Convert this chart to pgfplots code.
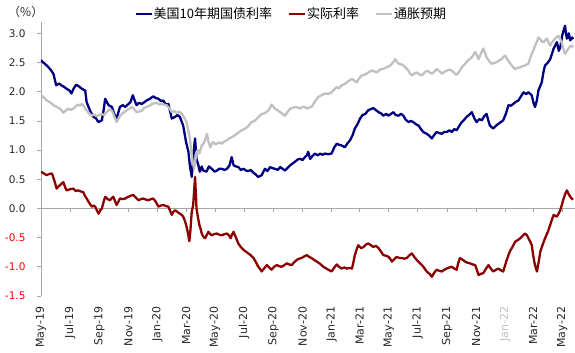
\documentclass[border=0pt]{standalone}
\usepackage{fontspec}
\setmainfont{DejaVu Sans}
\newfontfamily\cjk{Noto Sans CJK SC}
\usepackage{pgfplots}
\pgfplotsset{compat=1.18}
\definecolor{navyc}{HTML}{000080}
\definecolor{redc}{HTML}{8B0000}
\definecolor{grayc}{HTML}{C0C0C0}
\definecolor{axisc}{HTML}{A6A6A6}
\definecolor{lblc}{HTML}{262626}
\begin{document}
\begin{tikzpicture}
\useasboundingbox (0,0) rectangle (575bp,353bp);
\begin{axis}[
  at={(41bp,57bp)}, anchor=south west,
  scale only axis, width=534bp, height=274.3bp,
  xmin=0, xmax=1123, ymin=-1.5, ymax=3.2,
  axis x line*=middle, axis y line*=left,
  axis line style={draw=axisc, line width=0.8bp, -},
  hide obscured x ticks=false,
  xtick={0,61,123,184,245,305,366,427,489,550,611,670,731,792,854,915,976,1035,1096},
  xticklabels={May-19,Jul-19,Sep-19,Nov-19,Jan-20,Mar-20,May-20,Jul-20,Sep-20,Nov-20,Jan-21,Mar-21,May-21,Jul-21,Sep-21,Nov-21,\textcolor{grayc}{Jan-22},Mar-22,May-22},
  ytick={-1.5,-1.0,-0.5,0,0.5,1.0,1.5,2.0,2.5,3.0},
  yticklabels={\textcolor{red}{-1.5},\textcolor{red}{-1.0},\textcolor{red}{-0.5},0.0,0.5,1.0,1.5,2.0,2.5,3.0},
  tick align=outside, major tick length=4bp,
  tick style={draw=axisc, line width=0.8bp},
  xticklabel style={rotate=90, anchor=east, font=\fontsize{11bp}{12bp}\selectfont, text=lblc},
  xticklabel shift=91bp,
  yticklabel style={font=\fontsize{10.5bp}{12bp}\selectfont, text=lblc},
  yticklabel shift=8bp,
  legend style={at={(0.4680,1.028)}, anchor=center, draw=none, fill=none,
    font=\cjk\fontsize{13bp}{15bp}\selectfont,
    /tikz/every even column/.append style={column sep=15bp},
    inner sep=0pt, nodes={inner xsep=1bp, inner ysep=0pt}},
  legend columns=3,
  legend image code/.code={\draw[#1, line width=2bp] (0bp,0bp) -- (16bp,0bp);},
  every axis plot/.append style={line width=2.3bp, line join=round},
]
\addplot[navyc] coordinates {(0,2.54)(5,2.50)(12,2.45)(19,2.39)(26,2.31)(32,2.11)(38,2.14)(43,2.11)(49,2.08)(54,2.05)(60,2.02)(64,1.97)(69,2.06)(74,2.12)(80,2.09)(86,2.05)(93,2.02)(96,1.82)(103,1.68)(110,1.57)(115,1.55)(121,1.48)(128,1.51)(132,1.70)(135,1.88)(142,1.77)(149,1.74)(154,1.62)(159,1.54)(166,1.74)(172,1.77)(177,1.74)(184,1.79)(188,1.82)(193,1.94)(197,1.85)(201,1.77)(206,1.81)(212,1.79)(217,1.82)(222,1.85)(229,1.88)(236,1.92)(242,1.89)(247,1.88)(252,1.84)(257,1.85)(263,1.78)(268,1.79)(275,1.54)(282,1.57)(287,1.60)(292,1.57)(299,1.42)(305,1.14)(310,0.97)(313,0.74)(317,0.54)(320,0.85)(322,1.05)(324,1.20)(327,0.85)(331,0.74)(334,0.63)(338,0.72)(341,0.65)(348,0.63)(353,0.72)(359,0.68)(365,0.63)(370,0.65)(375,0.68)(380,0.68)(386,0.66)(391,0.68)(396,0.73)(401,0.88)(405,0.74)(410,0.72)(415,0.71)(420,0.66)(426,0.68)(431,0.65)(436,0.64)(441,0.66)(447,0.61)(452,0.58)(457,0.54)(464,0.57)(471,0.68)(476,0.64)(482,0.71)(487,0.69)(492,0.68)(498,0.66)(503,0.71)(508,0.68)(513,0.65)(519,0.70)(524,0.74)(529,0.77)(534,0.80)(540,0.84)(545,0.85)(550,0.83)(555,0.88)(559,0.91)(562,0.97)(566,0.85)(571,0.90)(576,0.94)(582,0.91)(587,0.94)(592,0.92)(597,0.94)(604,0.93)(611,0.94)(617,1.05)(622,1.11)(627,1.09)(632,1.08)(639,1.05)(645,1.12)(650,1.17)(655,1.25)(660,1.37)(666,1.45)(671,1.54)(676,1.60)(682,1.62)(688,1.68)(693,1.70)(699,1.72)(705,1.68)(710,1.65)(715,1.63)(720,1.59)(726,1.62)(731,1.59)(736,1.62)(741,1.65)(746,1.60)(752,1.59)(757,1.62)(762,1.59)(767,1.52)(773,1.48)(778,1.50)(783,1.48)(789,1.44)(794,1.42)(799,1.36)(804,1.31)(811,1.28)(816,1.25)(822,1.20)(827,1.26)(832,1.31)(838,1.29)(843,1.28)(848,1.31)(853,1.31)(859,1.34)(864,1.31)(869,1.36)(874,1.34)(880,1.42)(885,1.48)(890,1.52)(895,1.57)(900,1.60)(906,1.65)(911,1.55)(916,1.48)(922,1.53)(927,1.51)(932,1.58)(937,1.62)(941,1.50)(944,1.42)(951,1.37)(957,1.42)(962,1.45)(967,1.48)(972,1.51)(978,1.63)(983,1.77)(988,1.76)(993,1.79)(999,1.83)(1004,1.85)(1010,1.93)(1015,1.99)(1020,1.96)(1025,1.99)(1032,1.94)(1036,1.80)(1039,1.74)(1043,1.86)(1046,2.02)(1050,2.10)(1053,2.16)(1057,2.35)(1060,2.45)(1066,2.50)(1071,2.56)(1075,2.66)(1078,2.74)(1082,2.80)(1085,2.85)(1089,2.70)(1092,2.76)(1096,2.96)(1099,3.05)(1102,3.13)(1104,3.00)(1106,2.91)(1110,3.00)(1113,2.88)(1117,2.93)(1119,2.90)};
\addlegendentry{美国10年期国债利率}
\addplot[redc] coordinates {(0,0.63)(6,0.60)(12,0.57)(17,0.59)(23,0.60)(28,0.48)(33,0.34)(37,0.38)(40,0.40)(44,0.43)(47,0.45)(51,0.36)(54,0.31)(61,0.33)(68,0.34)(73,0.30)(78,0.31)(84,0.29)(89,0.28)(92,0.22)(96,0.17)(101,0.10)(107,0.03)(111,0.05)(114,0.03)(118,-0.04)(121,-0.09)(125,-0.03)(128,0.00)(132,0.12)(135,0.20)(140,0.16)(145,0.14)(149,0.18)(152,0.20)(156,0.12)(159,0.06)(163,0.12)(166,0.17)(172,0.16)(177,0.17)(181,0.19)(184,0.20)(189,0.22)(194,0.23)(200,0.18)(205,0.14)(210,0.16)(215,0.17)(221,0.15)(226,0.14)(231,0.16)(236,0.17)(241,0.12)(247,0.03)(252,0.05)(257,0.06)(263,0.04)(268,0.03)(272,-0.05)(275,-0.11)(278,-0.06)(282,-0.03)(287,-0.06)(292,-0.09)(296,-0.11)(299,-0.14)(303,-0.22)(306,-0.31)(309,-0.42)(312,-0.56)(314,-0.40)(317,-0.06)(320,0.06)(322,0.30)(324,0.54)(326,0.20)(327,0.00)(330,-0.15)(333,-0.28)(336,-0.36)(338,-0.43)(341,-0.48)(345,-0.51)(349,-0.45)(352,-0.40)(356,-0.44)(359,-0.46)(364,-0.44)(370,-0.43)(375,-0.45)(380,-0.46)(386,-0.44)(391,-0.43)(396,-0.47)(399,-0.51)(401,-0.46)(405,-0.40)(410,-0.50)(415,-0.60)(420,-0.66)(426,-0.71)(431,-0.74)(436,-0.77)(441,-0.80)(447,-0.85)(452,-0.92)(457,-1.00)(461,-1.04)(464,-1.08)(470,-1.02)(475,-0.97)(480,-1.01)(485,-1.05)(490,-1.00)(496,-0.97)(501,-0.99)(506,-1.00)(512,-0.97)(517,-0.94)(522,-0.96)(527,-0.97)(533,-0.92)(538,-0.88)(543,-0.86)(548,-0.85)(554,-0.82)(559,-0.80)(564,-0.83)(569,-0.85)(574,-0.88)(580,-0.91)(587,-0.95)(594,-1.00)(602,-1.04)(611,-1.08)(617,-1.01)(622,-0.96)(627,-1.00)(632,-1.03)(638,-1.01)(643,-1.03)(649,-1.02)(654,-1.03)(657,-0.92)(660,-0.80)(664,-0.70)(667,-0.63)(673,-0.68)(678,-0.66)(683,-0.62)(688,-0.60)(694,-0.63)(699,-0.66)(704,-0.64)(710,-0.68)(715,-0.74)(720,-0.80)(726,-0.81)(731,-0.83)(735,-0.87)(738,-0.91)(743,-0.87)(748,-0.83)(754,-0.85)(759,-0.85)(764,-0.86)(769,-0.85)(775,-0.80)(780,-0.77)(785,-0.83)(790,-0.88)(796,-0.93)(801,-0.97)(806,-1.02)(811,-1.08)(817,-1.12)(822,-1.17)(827,-1.10)(832,-1.05)(838,-1.07)(843,-1.08)(848,-1.05)(853,-1.03)(859,-1.01)(864,-1.00)(869,-1.03)(874,-1.05)(878,-0.92)(881,-0.85)(887,-0.88)(892,-0.91)(897,-0.93)(902,-0.94)(908,-0.96)(913,-0.97)(917,-1.06)(920,-1.14)(925,-1.12)(930,-1.11)(936,-1.03)(941,-0.97)(946,-1.03)(951,-1.08)(957,-1.05)(962,-1.03)(967,-1.06)(972,-1.08)(978,-0.92)(983,-0.80)(987,-0.72)(990,-0.68)(994,-0.62)(997,-0.57)(1003,-0.54)(1008,-0.51)(1013,-0.47)(1018,-0.43)(1022,-0.46)(1025,-0.51)(1029,-0.57)(1032,-0.63)(1035,-0.80)(1038,-0.94)(1041,-1.03)(1043,-1.08)(1047,-0.90)(1050,-0.74)(1055,-0.62)(1060,-0.51)(1066,-0.40)(1071,-0.28)(1075,-0.18)(1078,-0.11)(1082,-0.13)(1085,-0.14)(1089,-0.08)(1092,-0.03)(1096,0.08)(1099,0.17)(1103,0.26)(1106,0.31)(1110,0.24)(1113,0.20)(1116,0.17)(1119,0.15)};
\addlegendentry{实际利率}
\addplot[grayc] coordinates {(0,1.94)(6,1.90)(12,1.85)(19,1.82)(26,1.77)(33,1.74)(40,1.71)(47,1.64)(52,1.68)(57,1.71)(63,1.69)(68,1.71)(73,1.75)(78,1.78)(82,1.76)(86,1.79)(91,1.74)(96,1.68)(101,1.63)(107,1.59)(112,1.61)(117,1.58)(122,1.60)(128,1.62)(133,1.60)(138,1.65)(144,1.70)(149,1.68)(154,1.58)(159,1.48)(165,1.57)(170,1.62)(175,1.65)(180,1.68)(186,1.71)(191,1.74)(196,1.70)(201,1.65)(207,1.66)(212,1.68)(217,1.72)(222,1.74)(228,1.76)(233,1.79)(238,1.80)(243,1.81)(249,1.78)(254,1.79)(259,1.78)(264,1.77)(270,1.72)(275,1.65)(280,1.67)(285,1.64)(291,1.66)(296,1.62)(301,1.56)(306,1.48)(310,1.33)(313,1.20)(317,0.91)(319,0.80)(322,0.68)(325,0.85)(327,0.97)(330,1.00)(333,0.94)(336,1.02)(338,1.08)(341,1.10)(345,1.17)(349,1.28)(352,1.15)(356,1.05)(359,1.10)(362,1.14)(366,1.10)(370,1.11)(375,1.13)(380,1.11)(386,1.15)(391,1.17)(396,1.20)(401,1.22)(407,1.25)(412,1.28)(417,1.31)(422,1.34)(428,1.36)(433,1.39)(438,1.43)(443,1.48)(449,1.50)(454,1.54)(459,1.58)(464,1.62)(470,1.63)(475,1.66)(480,1.70)(485,1.78)(489,1.74)(492,1.71)(498,1.68)(503,1.65)(508,1.62)(513,1.59)(519,1.66)(524,1.71)(529,1.72)(534,1.74)(540,1.73)(545,1.71)(550,1.74)(555,1.74)(559,1.71)(564,1.73)(569,1.74)(576,1.83)(583,1.91)(590,1.94)(597,1.97)(604,1.96)(611,1.99)(617,2.04)(622,2.08)(627,2.06)(632,2.11)(638,2.13)(643,2.16)(648,2.19)(654,2.22)(659,2.19)(664,2.16)(670,2.24)(675,2.28)(680,2.29)(685,2.31)(690,2.34)(696,2.36)(701,2.35)(706,2.33)(711,2.37)(717,2.39)(722,2.40)(727,2.42)(733,2.44)(738,2.48)(742,2.52)(745,2.56)(748,2.52)(752,2.48)(757,2.47)(762,2.45)(767,2.41)(773,2.36)(776,2.31)(780,2.28)(785,2.31)(790,2.33)(795,2.30)(801,2.28)(806,2.32)(811,2.36)(816,2.34)(822,2.31)(827,2.34)(832,2.39)(838,2.35)(843,2.31)(848,2.34)(853,2.36)(859,2.38)(864,2.36)(869,2.32)(874,2.29)(880,2.35)(885,2.42)(890,2.46)(895,2.51)(900,2.55)(906,2.59)(910,2.64)(913,2.68)(917,2.62)(920,2.56)(925,2.65)(930,2.74)(934,2.66)(937,2.59)(942,2.53)(948,2.48)(953,2.49)(959,2.51)(964,2.54)(969,2.56)(973,2.60)(976,2.62)(981,2.55)(987,2.48)(992,2.43)(997,2.39)(1003,2.41)(1008,2.42)(1013,2.44)(1018,2.45)(1022,2.47)(1025,2.48)(1029,2.58)(1032,2.65)(1036,2.72)(1039,2.79)(1043,2.86)(1046,2.93)(1050,2.90)(1053,2.86)(1057,2.85)(1060,2.88)(1064,2.91)(1067,2.85)(1071,2.79)(1074,2.84)(1078,2.88)(1082,2.92)(1085,2.94)(1088,2.96)(1092,2.90)(1096,2.82)(1099,2.72)(1102,2.65)(1106,2.70)(1109,2.74)(1113,2.78)(1116,2.79)(1119,2.76)};
\addlegendentry{通胀预期}
\end{axis}
\node[anchor=west, font=\cjk\fontsize{12bp}{14bp}\selectfont, text=lblc, inner sep=0pt] at (8bp,341bp) {（\%）};
\end{tikzpicture}
\end{document}
